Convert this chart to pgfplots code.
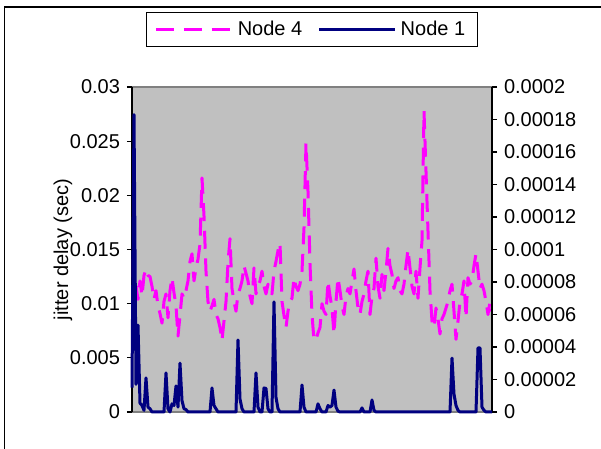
\documentclass[border=0pt]{standalone}
\usepackage{fontspec}
\setmainfont{Liberation Sans}
\usepackage{pgfplots}
\usepackage{pgfplotstable}
\pgfplotsset{compat=1.18}

\definecolor{plotgray}{RGB}{192,192,192}
\definecolor{framegray}{RGB}{128,128,128}
\definecolor{nodefour}{RGB}{255,0,255}
\definecolor{nodeone}{RGB}{0,0,128}

% Node 4 jitter (left axis, sec)
\pgfplotstableread{
idx jitter
0 0.0141
1 0.0102
2 0.0116
3 0.0104
4 0.0121
5 0.0107
6 0.0126
7 0.0132
8 0.0126
9 0.0125
10 0.0116
11 0.0104
12 0.0112
13 0.0098
14 0.0091
15 0.0082
16 0.0102
17 0.0109
18 0.0087
19 0.0112
20 0.0124
21 0.0110
22 0.0098
23 0.0070
24 0.0089
25 0.0109
26 0.0105
27 0.0112
28 0.0121
29 0.0139
30 0.0146
31 0.0121
32 0.0133
33 0.0141
34 0.0155
35 0.0216
36 0.0181
37 0.0130
38 0.0102
39 0.0093
40 0.0098
41 0.0104
42 0.0090
43 0.0086
44 0.0078
45 0.0066
46 0.0084
47 0.0102
48 0.0138
49 0.0160
50 0.0114
51 0.0102
52 0.0093
53 0.0109
54 0.0114
55 0.0121
56 0.0135
57 0.0128
58 0.0121
59 0.0107
60 0.0100
61 0.0133
62 0.0109
63 0.0116
64 0.0121
65 0.0130
66 0.0116
67 0.0109
68 0.0118
69 0.0112
70 0.0109
71 0.0130
72 0.0139
73 0.0149
74 0.0156
75 0.0102
76 0.0089
77 0.0078
78 0.0093
79 0.0102
80 0.0105
81 0.0124
82 0.0116
83 0.0112
84 0.0118
85 0.0130
86 0.0170
87 0.0248
88 0.0204
89 0.0137
90 0.0090
91 0.0066
92 0.0067
93 0.0073
94 0.0078
95 0.0100
96 0.0093
97 0.0090
98 0.0121
99 0.0107
100 0.0096
101 0.0072
102 0.0102
103 0.0124
104 0.0112
105 0.0098
106 0.0090
107 0.0107
108 0.0114
109 0.0109
110 0.0121
111 0.0132
112 0.0112
113 0.0096
114 0.0090
115 0.0102
116 0.0109
117 0.0121
118 0.0130
119 0.0090
120 0.0107
121 0.0114
122 0.0142
123 0.0116
124 0.0105
125 0.0127
126 0.0112
127 0.0130
128 0.0151
129 0.0135
130 0.0127
131 0.0114
132 0.0121
133 0.0124
134 0.0112
135 0.0109
136 0.0118
137 0.0135
138 0.0150
139 0.0133
140 0.0116
141 0.0109
142 0.0130
143 0.0105
144 0.0133
145 0.0158
146 0.0278
147 0.0222
148 0.0167
149 0.0112
150 0.0084
151 0.0078
152 0.0096
153 0.0086
154 0.0072
155 0.0086
156 0.0090
157 0.0096
158 0.0102
159 0.0112
160 0.0118
161 0.0093
162 0.0067
163 0.0084
164 0.0102
165 0.0109
166 0.0121
167 0.0087
168 0.0124
169 0.0118
170 0.0121
171 0.0135
172 0.0146
173 0.0130
174 0.0114
175 0.0118
176 0.0112
177 0.0102
178 0.0090
179 0.0102
180 0.0093
}\tabnodefour

% Node 1 jitter (right axis, sec)
\pgfplotstableread{
idx jitter
0 0.000015
1 0.000183
2 0.000017
3 0.0000535
4 0.0000055
5 0.000004
6 0.000001
7 0.000021
8 0.000003
9 0.000002
10 0
16 0
17 0.000024
18 0.000002
19 0
20 0.000005
21 0.000004
22 0.000016
23 0.000003
24 0.00003
25 0.000007
26 0.000002
27 0.0000015
28 0
39 0
40 0.0000148
41 0.000004
42 0.000002
43 0
52 0
53 0.0000443
54 0.000008
55 0.000002
56 0
61 0
62 0.000024
63 0.000003
64 0
65 0
66 0.0000148
67 0.0000145
68 0.000002
69 0
70 0
71 0.0000677
72 0.000009
73 0.000002
74 0
84 0
85 0.0000166
86 0.000003
87 0
92 0
93 0.000005
94 0.000002
95 0
97 0
98 0.000004
99 0.000003
100 0.000004
101 0.0000135
102 0.000003
103 0.0000005
104 0
114 0
115 0.0000025
116 0
119 0
120 0.0000074
121 0.000001
122 0
159 0
160 0.0000332
161 0.000011
162 0.000004
163 0.000001
164 0
172 0
173 0.0000394
174 0.0000394
175 0.000003
176 0.000001
177 0
180 0
}\tabnodeone

\begin{document}
\begin{tikzpicture}
  \useasboundingbox (-66pt,-18.5pt) rectangle (234.5pt,206pt);
  % chart frame (only left and top edges fall inside the picture)
  \draw[black, line width=0.6pt] (-63.75pt,-30pt) -- (-63.75pt,202.5pt) -- (260pt,202.5pt);

  \begin{axis}[
    at={(0,0)}, anchor=south west,
    scale only axis, width=180pt, height=162.5pt,
    xmin=0, xmax=180, ymin=0, ymax=0.03,
    xtick=\empty,
    ytick={0,0.005,0.01,0.015,0.02,0.025,0.03},
    ytick pos=left,
    tick align=outside,
    major tick length=2.5pt,
    tick style={black, line width=0.6pt},
    separate axis lines,
    x axis line style={framegray, line width=0.8pt},
    y axis line style={black, line width=0.8pt},
    axis background/.style={fill=plotgray},
    scaled y ticks=false,
    yticklabel style={/pgf/number format/fixed, /pgf/number format/precision=3},
    /pgf/number format/assume math mode=true,
    ylabel={jitter delay (sec)},
    ylabel style={at={(axis description cs:-0.1917,0.5)}, anchor=center},
    legend columns=2,
    legend image code/.code={\draw[#1] (0pt,0pt) -- (38pt,0pt);},
    legend style={at={(0.5,1.177)}, anchor=center, draw=black, fill=white,
      line width=0.5pt, inner xsep=4pt, inner ysep=2pt,
      /tikz/every even column/.append style={column sep=6pt}},
  ]
    \addplot[nodefour, line width=1.5pt, dash pattern=on 9pt off 4.8pt, line join=round]
      table[x=idx, y=jitter] {\tabnodefour};
    \addlegendentry{Node 4}
    \addlegendimage{nodeone, line width=1.2pt}
    \addlegendentry{Node 1}
  \end{axis}

  \begin{axis}[
    at={(0,0)}, anchor=south west,
    scale only axis, width=180pt, height=162.5pt,
    xmin=0, xmax=180, ymin=0, ymax=0.0002,
    axis x line=none,
    axis y line*=right,
    y axis line style={black, line width=0.8pt, -},
    ytick={0,0.00002,0.00004,0.00006,0.00008,0.0001,0.00012,0.00014,0.00016,0.00018,0.0002},
    tick align=outside,
    major tick length=2.5pt,
    tick style={black, line width=0.6pt},
    scaled y ticks=false,
    yticklabel style={/pgf/number format/fixed, /pgf/number format/precision=5},
    /pgf/number format/assume math mode=true,
    clip=false,
  ]
    \addplot[nodeone, line width=1.5pt, line join=round]
      table[x=idx, y=jitter] {\tabnodeone};
  \end{axis}
\end{tikzpicture}
\end{document}
